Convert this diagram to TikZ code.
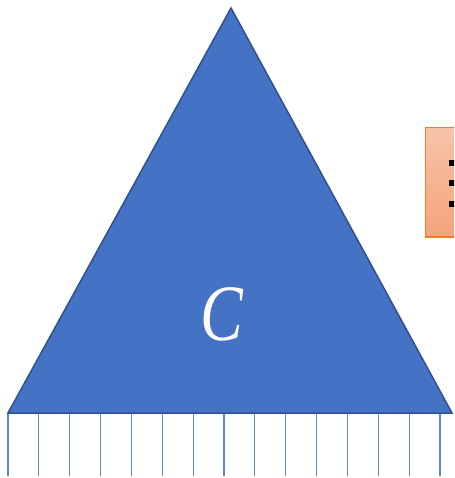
\documentclass[tikz,border=0pt]{standalone}
\usepackage{fontspec}
\setmainfont{Liberation Serif}
\usetikzlibrary{calc}
\definecolor{triblue}{HTML}{4472C4}
\definecolor{triedge}{HTML}{2F528F}
\definecolor{boxtop}{HTML}{F7C4A9}
\definecolor{boxbot}{HTML}{F4A37A}
\definecolor{boxedge}{HTML}{ED7D31}
\tikzset{
  hatchline/.style={draw=triblue!85, line width=1.1pt},
  tri/.style={fill=triblue, draw=triedge, line width=1.5pt, line join=miter},
}
\begin{document}
\begin{tikzpicture}[x=1pt,y=-1pt]
\useasboundingbox (0,0) rectangle (454,478);
% support hatch lines
\foreach \i in {0,...,14} {
  \coordinate (top\i) at ({8+\i*30.86},414);
  \coordinate (bot\i) at ({8+\i*30.86},476);
  \draw[hatchline] (top\i) -- (bot\i);
}
% triangle
\coordinate (A) at (8,413);
\coordinate (B) at (452,413);
\coordinate (T) at (231,8);
\draw[tri] (A) -- (B) -- (T) -- cycle;
\node[text=white, inner sep=0pt] (c) at (221.5,314) {\scalebox{0.8}[1]{\fontsize{80}{80}\selectfont\itshape C}};
% orange box (partly visible)
\begin{scope}
\clip (0,0) rectangle (454,478);
\shade[top color=boxtop, bottom color=boxbot, draw=boxedge, line width=1.2pt] (425.5,127.5) rectangle (480,237);
\fill[black] (449,160) rectangle (455,166);
\fill[black] (449,180) rectangle (455,186);
\fill[black] (449,201) rectangle (455,207);
\end{scope}
\end{tikzpicture}
\end{document}
